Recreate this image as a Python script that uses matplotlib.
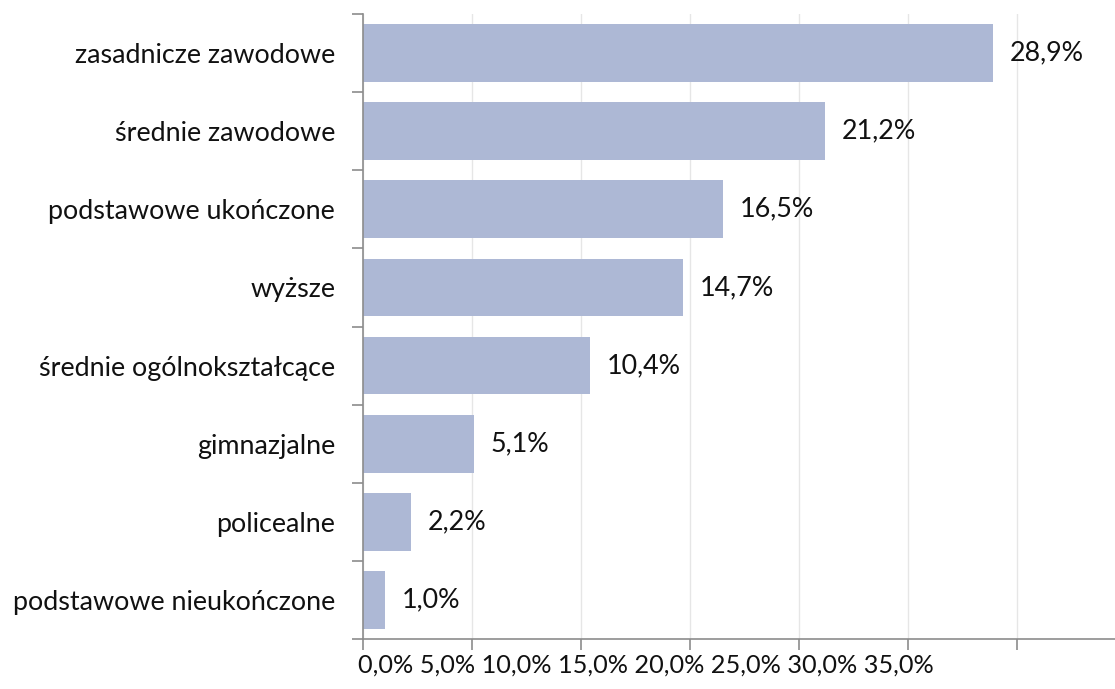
import matplotlib
matplotlib.use("Agg")
import matplotlib.pyplot as plt

categories = ["zasadnicze zawodowe", "średnie zawodowe", "podstawowe ukończone", "wyższe",
              "średnie ogólnokształcące", "gimnazjalne", "policealne", "podstawowe nieukończone"]
values = [28.9, 21.2, 16.5, 14.7, 10.4, 5.1, 2.2, 1.0]
tick_values = [0, 5, 10, 15, 20, 25, 30, 35]
tick_labels = ["0,0%", "5,0%", "10,0%", "15,0%", "20,0%", "25,0%", "30,0%", "35,0%"]

plt.rcParams['font.family'] = ['Lato', 'DejaVu Sans']
FS = 19.4
W, H = 1115, 689
fig = plt.figure(figsize=(W / 100, H / 100), dpi=100)
x0, x1 = 363, 363 + 35 * 21.8
y0, y1 = 639, 14
ax = fig.add_axes([x0 / W, 1 - y0 / H, (x1 - x0) / W, (y0 - y1) / H])

n = len(categories)
pos = list(range(n))
ax.barh(pos, values, height=0.74, color="#adb8d5", zorder=2)
ax.set_ylim(n - 0.5, -0.5)
ax.set_xlim(0, 35)

ax.set_xticks(tick_values[:-1])
ax.set_xticklabels([])
ax.tick_params(axis='x', direction='out', length=8, width=1.2, color="#8c8c8c")
ax.set_yticks([i - 0.5 for i in range(n + 1)], minor=False)
ax.set_yticklabels([])
ax.set_yticks(pos, minor=True)
ax.set_yticklabels(categories, minor=True, fontsize=FS, color="#111111")
ax.tick_params(axis='y', which='major', direction='out', length=8, width=1.2, color="#8c8c8c")
ax.tick_params(axis='y', which='minor', length=0, pad=20)

ax.grid(axis='x', color="#e6e6e6", linewidth=1, zorder=0)
for s in ['top', 'right']:
    ax.spines[s].set_visible(False)
for s in ['left', 'bottom']:
    ax.spines[s].set_color("#8c8c8c")
    ax.spines[s].set_linewidth(1.2)

for p, v in zip(pos, values):
    ax.annotate(f"{v:.1f}".replace(".", ",") + "%", (v, p), xytext=(12, 0),
                textcoords='offset points', va='center', ha='left', fontsize=FS, color="#111111")

fig.text(646 / W, 1 - 665 / H, " ".join(tick_labels), ha='center', va='center', fontsize=18.2, color="#111111")

fig.savefig("out.png", dpi=100)
